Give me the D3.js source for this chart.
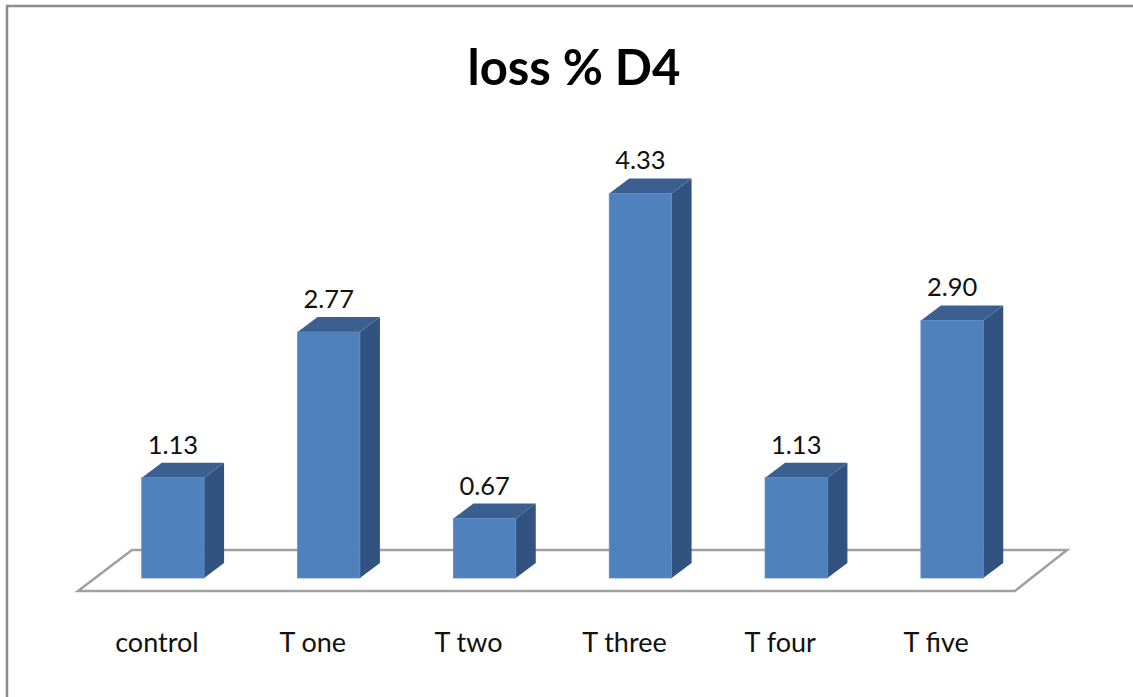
<!DOCTYPE html>
<html>
<head>
<meta charset="utf-8">
<script src="https://cdn.jsdelivr.net/npm/d3@7"></script>
<style>
  html, body { margin: 0; background: #fff; overflow: hidden; }
  svg { display: block; }
  text { font-family: Lato, "Open Sans", sans-serif; }
</style>
</head>
<body>
<div id="viz"></div>
<script>
// chart data
var categories = ['control', 'T one', 'T two', 'T three', 'T four', 'T five'];
var values = [1.13, 2.77, 0.67, 4.33, 1.13, 2.90];
var valueLabels = ['1.13', '2.77', '0.67', '4.33', '1.13', '2.90'];
var title = 'loss % D4';

var width = 1133, height = 697;

var svg = d3.select('#viz').append('svg')
  .attr('width', width)
  .attr('height', height);

// chart area border (runs off the right and bottom edge)
svg.append('rect')
  .attr('x', 7).attr('y', 6)
  .attr('width', 1200).attr('height', 800)
  .attr('fill', '#fff')
  .attr('stroke', '#8c8c8c')
  .attr('stroke-width', 2.5);

// scales
var baseY = 578;
var x = d3.scaleBand()
  .domain(categories)
  .range([95, 1030])
  .paddingInner(0.6)
  .paddingOuter(0.3);

var y = d3.scaleLinear()
  .domain([0, 4.5])
  .range([baseY, baseY - 399.6]);

// 3d depth of the bars
var dx = 20, dy = -15;

// floor of the 3d plot
var r = x.range();
var floor = [
  [r[0] - 17, baseY + 13],
  [r[1] - 15, baseY + 13],
  [r[1] + 37, baseY - 28],
  [r[0] + 37, baseY - 28]
];
svg.append('path')
  .attr('d', d3.line()(floor) + 'Z')
  .attr('fill', '#fff')
  .attr('stroke', '#a0a0a0')
  .attr('stroke-width', 2.5)
  .attr('stroke-linejoin', 'miter');

// bars
var bars = svg.selectAll('.bar')
  .data(values)
  .enter()
  .append('g')
  .attr('class', 'bar');

// side face
bars.append('path')
  .attr('d', function (d, i) {
    var x1 = x(categories[i]) + x.bandwidth();
    var yt = y(d), yb = y(0);
    return d3.line()([[x1, yt], [x1 + dx, yt + dy], [x1 + dx, yb + dy], [x1, yb]]) + 'Z';
  })
  .attr('fill', '#325380');

// top face
bars.append('path')
  .attr('d', function (d, i) {
    var x0 = x(categories[i]), x1 = x0 + x.bandwidth();
    var yt = y(d);
    return d3.line()([[x0, yt], [x0 + dx, yt + dy], [x1 + dx, yt + dy], [x1, yt]]) + 'Z';
  })
  .attr('fill', '#3b6090');

// front face
bars.append('rect')
  .attr('x', function (d, i) { return x(categories[i]); })
  .attr('y', function (d) { return y(d); })
  .attr('width', x.bandwidth())
  .attr('height', function (d) { return y(0) - y(d); })
  .attr('fill', '#4f81bd')
  .attr('stroke', '#5a8cc6')
  .attr('stroke-width', 0.8);

// value labels
bars.append('text')
  .attr('x', function (d, i) { return x(categories[i]) + x.bandwidth() / 2; })
  .attr('y', function (d) { return y(d) - 24; })
  .attr('text-anchor', 'middle')
  .attr('font-size', '25.5px')
  .attr('fill', '#111')
  .text(function (d, i) { return valueLabels[i]; });

// category labels
svg.selectAll('.cat')
  .data(categories)
  .enter()
  .append('text')
  .attr('class', 'cat')
  .attr('x', function (d) { return x(d) + x.bandwidth() / 2 - 16; })
  .attr('y', 652)
  .attr('text-anchor', 'middle')
  .attr('font-size', '27px')
  .attr('fill', '#111')
  .text(function (d) { return d; });

// title
svg.append('text')
  .attr('x', 574)
  .attr('y', 85)
  .attr('text-anchor', 'middle')
  .attr('font-size', '49px')
  .attr('font-weight', 'bold')
  .attr('fill', '#000')
  .text(title);
</script>
</body>
</html>
